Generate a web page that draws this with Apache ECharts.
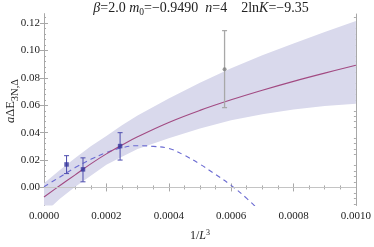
<!DOCTYPE html>
<html><head><meta charset="utf-8">
<script src="https://cdn.jsdelivr.net/npm/echarts@6/dist/echarts.min.js"></script>
<style>html,body{margin:0;padding:0;background:#fff}#c{width:374px;height:247px}</style>
</head><body><div id="c"></div>
<script>
// ---- data ----
const curveX      = [0, 0.00005, 0.0001, 0.00015, 0.0002, 0.00025, 0.0003, 0.0004, 0.0005, 0.0006, 0.0007, 0.0008, 0.0009, 0.001];
const fitCentral  = [-0.007, 0.0012, 0.0092, 0.0172, 0.0245, 0.031, 0.037, 0.0475, 0.0563, 0.064, 0.071, 0.0775, 0.0835, 0.0892];
const bandUpper   = [0.003, 0.0125, 0.0215, 0.030, 0.0375, 0.0455, 0.0525, 0.065, 0.0765, 0.087, 0.0965, 0.1052, 0.1135, 0.1215];
const bandLower   = [-0.019, -0.0085, 0.0005, 0.0085, 0.0165, 0.0225, 0.028, 0.036, 0.043, 0.049, 0.0535, 0.057, 0.0595, 0.0612];
const dashX       = [0, 0.00005, 0.0001, 0.00015, 0.0002, 0.00025, 0.0003, 0.00035, 0.0004, 0.00045, 0.0005, 0.00055, 0.0006, 0.00065, 0.0007];
const dashY       = [0.0005, 0.0075, 0.0145, 0.0205, 0.0255, 0.029, 0.0305, 0.030, 0.0285, 0.0235, 0.017, 0.0095, 0.0015, -0.008, -0.019];
const pointsX     = [0.0000723, 0.000125, 0.000244];
const pointsY     = [0.0168, 0.0132, 0.0302];
const pointsLo    = [0.0101, 0.0041, 0.0200];
const pointsHi    = [0.0232, 0.0216, 0.0400];
const grayX       = [0.000579];
const grayY       = [0.0863];
const grayLo      = [0.0583];
const grayHi      = [0.1146];
const xTickValues = [0, 0.0002, 0.0004, 0.0006, 0.0008, 0.001];
const xTickLabels = ['0.0000', '0.0002', '0.0004', '0.0006', '0.0008', '0.0010'];
const yTickValues = [0, 0.02, 0.04, 0.06, 0.08, 0.10, 0.12];
const yTickLabels = ['0.00', '0.02', '0.04', '0.06', '0.08', '0.10', '0.12'];

// ---- layout / style ----
const SERIF = '"Liberation Serif","DejaVu Serif",serif';
const FRAME = '#a8a8a8';
const yMin = -0.0132, yMax = 0.1267;
const yMinor = [];
for (let k = -3; k <= 31; k++) { if (k % 5 !== 0) yMinor.push(Math.round(k * 0.004 * 1e6) / 1e6); }

const chart = echarts.init(document.getElementById('c'));

function yAx(pos, major, withLabel) {
  return {
    type: 'value', min: yMin, max: yMax, position: pos,
    axisLine: { show: true, lineStyle: { color: FRAME, width: 1 } },
    axisTick: { show: true, inside: true, length: major ? 4 : 2, customValues: major ? yTickValues : yMinor, lineStyle: { color: FRAME } },
    axisLabel: withLabel ? {
      show: true, customValues: yTickValues, margin: 4, fontFamily: SERIF, fontSize: 11, color: '#222',
      formatter: v => { const i = yTickValues.findIndex(t => Math.abs(t - v) < 1e-9); return i >= 0 ? yTickLabels[i] : ''; }
    } : { show: false },
    splitLine: { show: false }
  };
}
function xAx(pos, withLabel) {
  const ax = {
    type: 'value', min: 0, max: 0.001, interval: 0.0002, position: pos,
    axisLine: { show: true, lineStyle: { color: FRAME, width: 1 } },
    axisTick: { show: true, inside: true, length: 4, lineStyle: { color: FRAME } },
    minorTick: { show: true, splitNumber: 4, length: 2, lineStyle: { color: FRAME } },
    axisLabel: withLabel ? {
      show: true, margin: 5, fontFamily: SERIF, fontSize: 11, color: '#222',
      formatter: v => { const i = xTickValues.findIndex(t => Math.abs(t - v) < 1e-12); return i >= 0 ? xTickLabels[i] : ''; }
    } : { show: false },
    splitLine: { show: false }, minorSplitLine: { show: false }
  };
  if (withLabel) {
    ax.name = '1/{i|L}{p|3}';
    ax.nameLocation = 'middle';
    ax.nameGap = 23;
    ax.nameTextStyle = {
      fontFamily: SERIF, fontSize: 12, color: '#222',
      rich: { i: { fontFamily: SERIF, fontSize: 12, fontStyle: 'italic', color: '#222' },
              p: { fontFamily: SERIF, fontSize: 8, color: '#222', padding: [0, 0, 7, 0] } }
    };
  }
  return ax;
}

const errData = pointsX.map((x, i) => [x, pointsY[i], pointsLo[i], pointsHi[i]]);
const grayData = grayX.map((x, i) => [x, grayY[i], grayLo[i], grayHi[i]]);

function errRender(color, lw) {
  return function (params, api) {
    const x = api.value(0), lo = api.value(2), hi = api.value(3);
    const a = api.coord([x, hi]), b = api.coord([x, lo]);
    const w = 2.5;
    const st = { stroke: color, lineWidth: lw };
    return { type: 'group', children: [
      { type: 'line', shape: { x1: a[0], y1: a[1], x2: b[0], y2: b[1] }, style: st },
      { type: 'line', shape: { x1: a[0] - w, y1: a[1], x2: a[0] + w, y2: a[1] }, style: st },
      { type: 'line', shape: { x1: b[0] - w, y1: b[1], x2: b[0] + w, y2: b[1] }, style: st }
    ] };
  };
}

chart.setOption({
  animation: false,
  backgroundColor: '#fff',
  title: {
    text: '{i|β}=2.0 {i|m}{s|0}=−0.9490  {i|n}=4    2ln{i|K}=−9.35',
    left: 201, top: 0, textAlign: 'center', padding: 0,
    textStyle: {
      fontFamily: SERIF, fontSize: 14, fontWeight: 'normal', color: '#222',
      rich: { i: { fontFamily: SERIF, fontSize: 14, fontStyle: 'italic', color: '#222' },
              s: { fontFamily: SERIF, fontSize: 9.5, color: '#222', padding: [7, 0, 0, 0] } }
    }
  },
  graphic: [{
    type: 'text', x: 11, y: 101, rotation: Math.PI / 2, z: 10,
    style: {
      text: '{i|a}ΔE{s|3N,Δ}', align: 'center', verticalAlign: 'middle',
      fontFamily: SERIF, fontSize: 12.5, fill: '#222',
      rich: { i: { fontFamily: SERIF, fontSize: 12.5, fontStyle: 'italic', fill: '#222' },
              s: { fontFamily: SERIF, fontSize: 10.5, fill: '#222', padding: [8, 0, 0, 0] } }
    }
  }],
  grid: { left: 44, right: 15, top: 14, bottom: 39, containLabel: false },
  xAxis: [xAx('bottom', true), xAx('top', false)],
  yAxis: [yAx('left', true, true), yAx('right', true, false), yAx('left', false, false), yAx('right', false, false)],
  series: [
    {
      type: 'custom', name: 'band', clip: true, z: 1,
      data: [[0, 0]],
      renderItem: function (params, api) {
        const pts = [];
        curveX.forEach((x, i) => pts.push(api.coord([x, bandUpper[i]])));
        for (let i = curveX.length - 1; i >= 0; i--) pts.push(api.coord([curveX[i], bandLower[i]]));
        return { type: 'polygon', shape: { points: pts, smooth: 0 }, style: { fill: '#d9d9ec', stroke: null } };
      },
      markLine: {
        silent: true, symbol: 'none', label: { show: false },
        lineStyle: { color: '#c4c4c4', type: 'solid', width: 1 },
        data: [{ yAxis: 0 }]
      }
    },
    {
      type: 'line', name: 'dashed', z: 3, smooth: 0.4, showSymbol: false, symbol: 'none',
      data: dashX.map((x, i) => [x, dashY[i]]),
      lineStyle: { color: '#6a6ad2', width: 1.1, type: [5, 4] }
    },
    {
      type: 'line', name: 'fit', z: 4, smooth: 0.4, showSymbol: false, symbol: 'none',
      data: curveX.map((x, i) => [x, fitCentral[i]]),
      lineStyle: { color: '#a24a82', width: 1.1 }
    },
    { type: 'custom', name: 'grayErr', z: 5, clip: true, data: grayData, renderItem: errRender('#a8a8a8', 1.3) },
    { type: 'scatter', name: 'grayPt', z: 6, symbol: 'circle', symbolSize: 4, itemStyle: { color: '#808080' }, data: grayData.map(d => [d[0], d[1]]) },
    { type: 'custom', name: 'err', z: 5, clip: true, data: errData, renderItem: errRender('#4c4cae', 1) },
    { type: 'scatter', name: 'pts', z: 6, symbol: 'rect', symbolSize: 4.5, itemStyle: { color: '#36369c' }, data: errData.map(d => [d[0], d[1]]) }
  ]
});
</script>
</body></html>
